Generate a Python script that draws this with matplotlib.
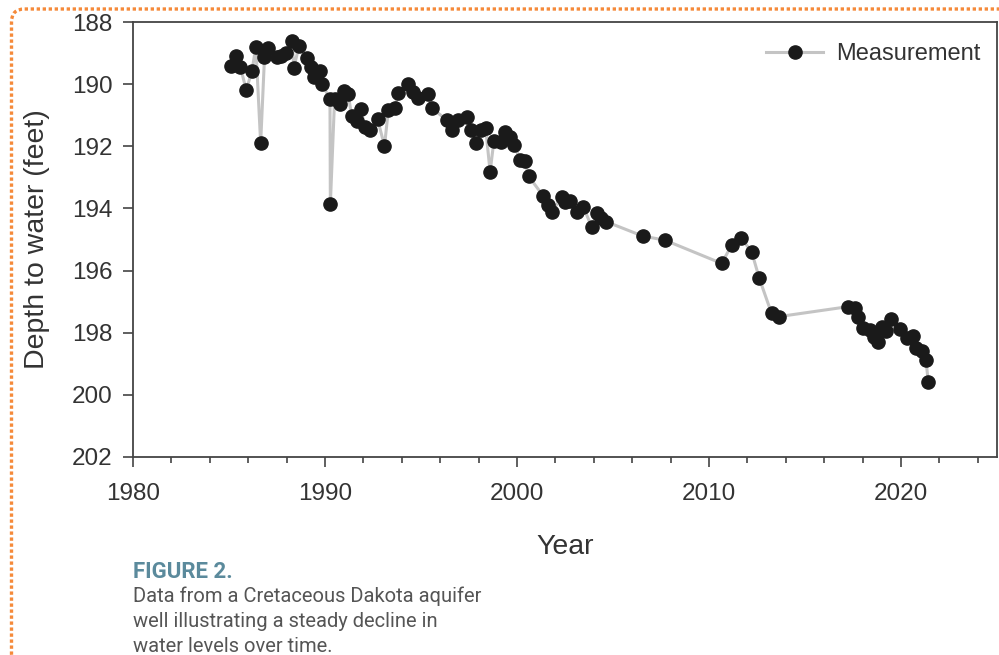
import matplotlib
matplotlib.use("Agg")
import matplotlib.pyplot as plt
from matplotlib.patches import FancyBboxPatch
from matplotlib.ticker import MultipleLocator

# depth to water readings
years = [1985.1, 1985.35, 1985.6, 1985.9, 1986.2, 1986.4, 1986.65, 1986.85, 1987.05, 1987.5,
         1987.7, 1987.95, 1988.3, 1988.37, 1988.65, 1989.05, 1989.27, 1989.45, 1989.72, 1989.86,
         1990.26, 1990.28, 1990.5, 1990.76, 1990.97, 1991.2, 1991.4, 1991.65, 1991.87, 1992.08,
         1992.36, 1992.74, 1993.1, 1993.3, 1993.65, 1993.8, 1994.3, 1994.6, 1994.86, 1995.38,
         1995.59, 1996.33, 1996.63, 1996.94, 1997.38, 1997.6, 1997.85, 1998.1, 1998.37, 1998.6,
         1998.8, 1999.17, 1999.4, 1999.64, 1999.86, 2000.16, 2000.42, 2000.6, 2001.37, 2001.6,
         2001.84, 2002.32, 2002.5, 2002.76, 2003.1, 2003.45, 2003.9, 2004.15, 2004.4, 2004.66,
         2006.55, 2007.7, 2010.66, 2011.18, 2011.65, 2012.22, 2012.62, 2013.26, 2013.66, 2017.26,
         2017.6, 2017.78, 2018.04, 2018.4, 2018.57, 2018.78, 2019.0, 2019.22, 2019.5, 2019.97,
         2020.3, 2020.6, 2020.78, 2021.07, 2021.3, 2021.42]
depths = [189.42, 189.09, 189.46, 190.19, 189.57, 188.79, 191.9, 189.14, 188.85, 189.12,
          189.09, 188.99, 188.6, 189.49, 188.77, 189.17, 189.44, 189.76, 189.57, 190.0,
          190.49, 193.86, 190.49, 190.64, 190.21, 190.32, 191.03, 191.18, 190.81, 191.37,
          191.48, 191.13, 191.99, 190.83, 190.78, 190.27, 190.0, 190.24, 190.46, 190.32,
          190.78, 191.15, 191.48, 191.15, 191.05, 191.48, 191.88, 191.48, 191.42, 192.82,
          191.82, 191.85, 191.53, 191.69, 191.96, 192.44, 192.46, 192.96, 193.6, 193.89,
          194.1, 193.62, 193.78, 193.75, 194.1, 193.94, 194.61, 194.16, 194.32, 194.43,
          194.89, 195.02, 195.77, 195.18, 194.94, 195.39, 196.25, 197.38, 197.48, 197.16,
          197.22, 197.5, 197.86, 197.91, 198.13, 198.29, 197.81, 197.94, 197.57, 197.89,
          198.18, 198.1, 198.5, 198.58, 198.88, 199.58]

x_major = [1980, 1990, 2000, 2010, 2020]
y_ticks = [188, 190, 192, 194, 196, 198, 200, 202]

caption_title = "FIGURE 2."
caption_lines = ["Data from a Cretaceous Dakota aquifer",
                 "well illustrating a steady decline in",
                 "water levels over time."]

plt.rcParams['font.family'] = ['Liberation Sans', 'DejaVu Sans']

fig = plt.figure(figsize=(9.99, 6.55), dpi=100)
ax = fig.add_axes([0.1331, 0.3023, 0.8649, 0.6641])

ax.plot(years, depths, color='#c4c4c4', linewidth=2.2, marker='o', markersize=9.5,
        markerfacecolor='#1a1a1a', markeredgecolor='#1a1a1a', label='Measurement', zorder=3)

ax.set_xlim(1980, 2025)
ax.set_ylim(202, 188)
ax.set_xticks(x_major)
ax.xaxis.set_minor_locator(MultipleLocator(2))
ax.set_yticks(y_ticks)

for s in ax.spines.values():
    s.set_color('#444444')
    s.set_linewidth(1.3)
ax.tick_params(axis='both', which='major', length=7, width=1.2, color='#444444',
               labelsize=17.5, labelcolor='#333333')
ax.tick_params(axis='x', which='major', pad=11.5)
ax.tick_params(axis='y', which='major', pad=7.5)
ax.tick_params(axis='x', which='minor', length=4.5, width=1.2, color='#444444')

ax.set_xlabel("Year", fontsize=20.5, color='#333333', labelpad=21)
ax.set_ylabel("Depth to water (feet)", fontsize=20.5, color='#333333', labelpad=16)

leg = ax.legend(loc='upper right', bbox_to_anchor=(1.0, 0.99), frameon=False, fontsize=17,
                handlelength=2.4, handletextpad=0.55, borderaxespad=0.3)
for t in leg.get_texts():
    t.set_color('#333333')

fig.text(0.1331, 1 - 572 / 655, caption_title, fontsize=16, fontweight='bold',
         color='#5b8a9c', family='Roboto', va='center', ha='left')
for i, line in enumerate(caption_lines):
    fig.text(0.1331, 1 - (596 + 25.5 * i) / 655, line, fontsize=14.5, color='#555555',
             family='Roboto', va='center', ha='left')

# dotted page frame around the figure
frame = FancyBboxPatch((0.115, -0.12), 10.1, 6.58, boxstyle="round,pad=0,rounding_size=0.13",
                       transform=fig.dpi_scale_trans, fill=False, edgecolor='#f58a3a',
                       linewidth=2.4, linestyle=(0, (1, 0.8)), clip_on=False)
fig.patches.append(frame)

fig.savefig('out.png', dpi=100)
